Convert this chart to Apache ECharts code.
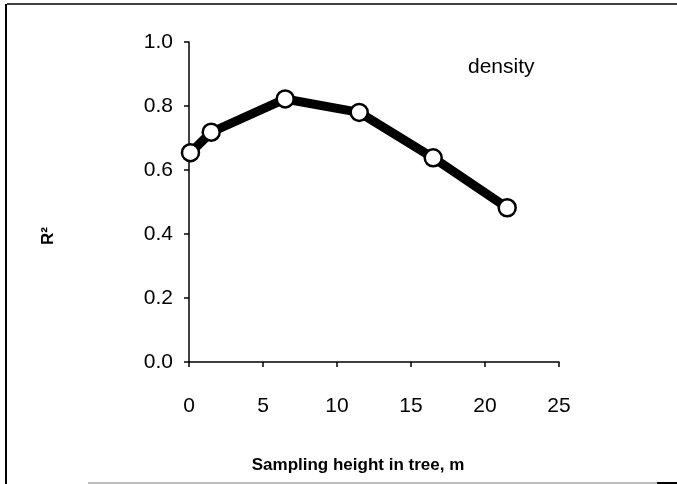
<!DOCTYPE html>
<html><head><meta charset="utf-8">
<script src="https://cdn.jsdelivr.net/npm/echarts@6/dist/echarts.min.js"></script>
<style>html,body{margin:0;padding:0;background:#fff}#c{width:677px;height:484px}</style>
</head><body><div id="c"></div>
<script>
const heights = [0.1, 1.5, 6.5, 11.5, 16.5, 21.5];
const r2 = [0.654, 0.718, 0.822, 0.780, 0.638, 0.482];
const xTicks = [0, 5, 10, 15, 20, 25];
const yTicks = [0.0, 0.2, 0.4, 0.6, 0.8, 1.0];
const chart = echarts.init(document.getElementById('c'), null, {renderer:'canvas'});
const font = 'Liberation Sans, Arial, sans-serif';
chart.setOption({
  backgroundColor:'#fff',
  animation:false,
  grid:{left:189,right:118,top:42,bottom:122},
  xAxis:{type:'value',min:0,max:25,interval:5,
    axisLine:{lineStyle:{color:'#000',width:1.5}},
    axisTick:{length:5,lineStyle:{color:'#000',width:1.5}},
    axisLabel:{margin:34,fontFamily:font,fontSize:21,color:'#000',formatter:v=>String(v)},
    splitLine:{show:false}},
  yAxis:{type:'value',min:0,max:1,interval:0.2,
    axisLine:{show:true,lineStyle:{color:'#000',width:1.5}},
    axisTick:{show:true,length:5,lineStyle:{color:'#000',width:1.5}},
    axisLabel:{margin:16,fontFamily:font,fontSize:21,color:'#000',formatter:v=>v.toFixed(1)},
    splitLine:{show:false}},
  series:[{type:'line',data:heights.map((h,i)=>[h,r2[i]]),
    lineStyle:{color:'#000',width:9},
    symbol:'circle',symbolSize:17,
    itemStyle:{color:'#fff',borderColor:'#000',borderWidth:2.5},
    z:5}],
  graphic:[
    {type:'text',left:468,top:57,style:{text:'density',font:'21px Liberation Sans, Arial, sans-serif',fill:'#000'}},
    {type:'text',x:358,y:465,style:{text:'Sampling height in tree, m',font:'bold 17px Liberation Sans, Arial, sans-serif',fill:'#000',align:'center',verticalAlign:'middle'}},
    {type:'text',x:48,y:236,rotation:Math.PI/2,style:{text:'R²',font:'bold 17px Liberation Sans, Arial, sans-serif',fill:'#000',align:'center',verticalAlign:'middle'}},
    {type:'line',shape:{x1:7,y1:4,x2:677,y2:4},style:{stroke:'#000',lineWidth:1.5}},
    {type:'line',shape:{x1:6,y1:4,x2:6,y2:484},style:{stroke:'#000',lineWidth:2}},
    {type:'line',shape:{x1:88,y1:483,x2:657,y2:483},style:{stroke:'#aaa',lineWidth:1.5}},
    {type:'line',shape:{x1:657,y1:483,x2:677,y2:483},style:{stroke:'#000',lineWidth:2}}
  ]
});
</script></body></html>
